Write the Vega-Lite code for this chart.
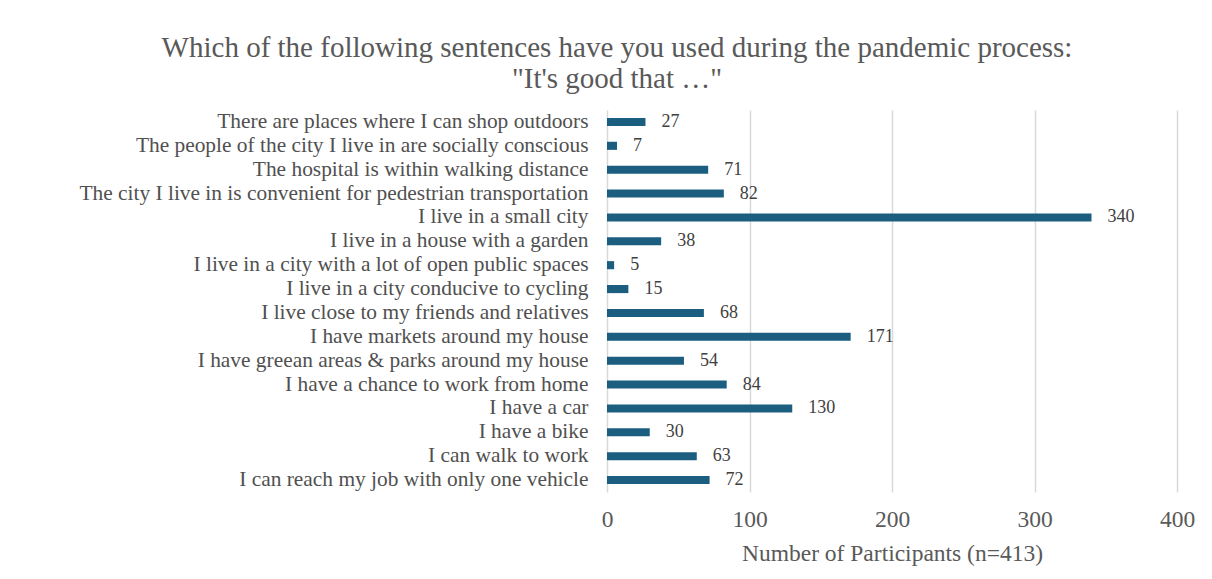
{
  "$schema": "https://vega.github.io/schema/vega-lite/v6.json",
  "autosize": "none",
  "width": 570,
  "height": 382,
  "padding": {"left": 607, "top": 110, "right": 35, "bottom": 87},
  "background": "white",
  "title": {
    "text": ["Which of the following sentences have you used during the pandemic process:", "\"It's good that …\""],
    "font": "Liberation Serif, Times New Roman, serif",
    "fontSize": 29,
    "fontWeight": "normal",
    "color": "#595959",
    "anchor": "middle",
    "frame": "group",
    "dx": -275,
    "offset": 16,
    "lineHeight": 31
  },
  "data": {
    "values": [
      {"sentence": "There are places where I can shop outdoors", "count": 27},
      {"sentence": "The people of the city I live in are socially conscious", "count": 7},
      {"sentence": "The hospital is within walking distance", "count": 71},
      {"sentence": "The city I live in is convenient for pedestrian transportation", "count": 82},
      {"sentence": "I live in a small city", "count": 340},
      {"sentence": "I live in a house with a garden", "count": 38},
      {"sentence": "I live in a city with a lot of open public spaces", "count": 5},
      {"sentence": "I live in a city conducive to cycling", "count": 15},
      {"sentence": "I live close to my friends and relatives", "count": 68},
      {"sentence": "I have markets around my house", "count": 171},
      {"sentence": "I have greean areas & parks around my house", "count": 54},
      {"sentence": "I have a chance to work from home", "count": 84},
      {"sentence": "I have a car", "count": 130},
      {"sentence": "I have a bike", "count": 30},
      {"sentence": "I can walk to work", "count": 63},
      {"sentence": "I can reach my job with only one vehicle", "count": 72}
    ]
  },
  "encoding": {
    "y": {
      "field": "sentence",
      "type": "nominal",
      "sort": null,
      "scale": {"paddingInner": 0.66, "paddingOuter": 0.33},
      "axis": {
        "title": null,
        "domain": false,
        "ticks": false,
        "labelFont": "Liberation Serif, Times New Roman, serif",
        "labelFontSize": 21.4,
        "labelColor": "#505050",
        "labelPadding": 19,
        "labelLimit": 700
      }
    },
    "x": {
      "field": "count",
      "type": "quantitative",
      "scale": {"domain": [0, 400], "nice": false},
      "axis": {
        "values": [0, 100, 200, 300, 400],
        "title": "Number of Participants (n=413)",
        "titleFont": "Liberation Serif, Times New Roman, serif",
        "titleFontSize": 23.5,
        "titleFontWeight": "normal",
        "titleColor": "#595959",
        "titlePadding": 11,
        "labelFont": "Liberation Serif, Times New Roman, serif",
        "labelFontSize": 23.5,
        "labelColor": "#595959",
        "labelPadding": 15,
        "labelFlush": false,
        "domain": false,
        "ticks": false,
        "grid": true,
        "gridColor": "#d9d9d9",
        "gridWidth": 1.5
      }
    }
  },
  "layer": [
    {"mark": {"type": "bar", "color": "#1b5e80"}},
    {
      "mark": {"type": "text", "align": "left", "baseline": "middle", "dx": 16, "font": "Liberation Serif, Times New Roman, serif", "fontSize": 18, "color": "#404040"},
      "encoding": {"text": {"field": "count", "type": "quantitative"}}
    }
  ],
  "config": {"view": {"stroke": null}}
}
